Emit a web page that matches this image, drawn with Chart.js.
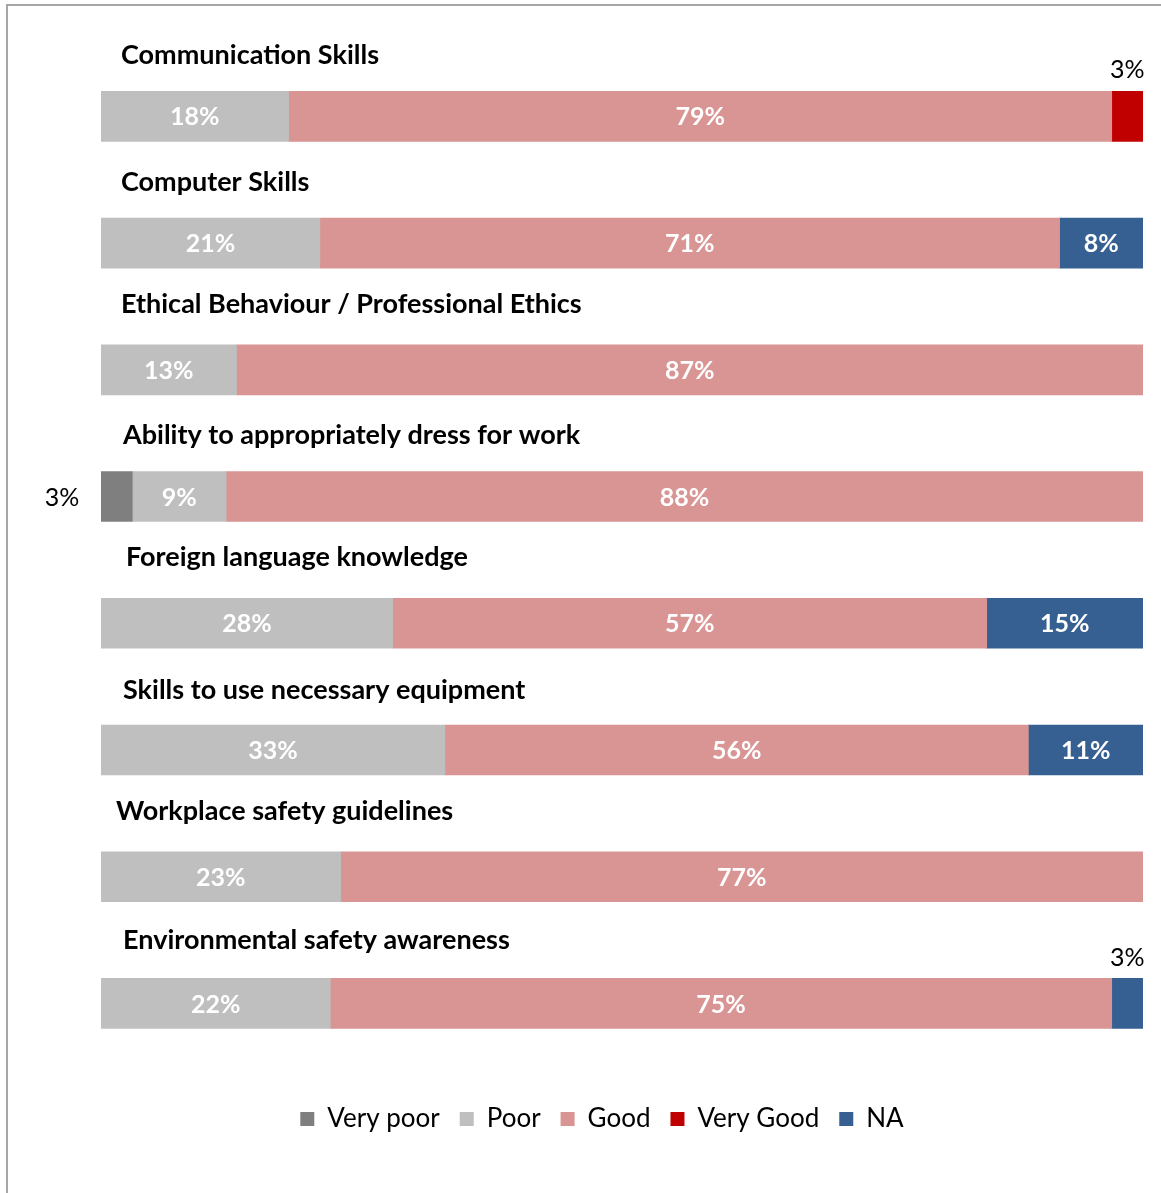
<!DOCTYPE html>
<html>
<head>
<meta charset="utf-8">
<script src="https://cdn.jsdelivr.net/npm/chart.js@4/dist/chart.umd.min.js"></script>
<style>
  html, body { margin: 0; padding: 0; background: #fff; }
  #wrap { position: relative; width: 1161px; height: 1193px; }
</style>
</head>
<body>
<div id="wrap"><canvas id="skill-chart"></canvas></div>
<script>
// categories (one bar each)
var skills = [
    'Communication Skills',
    'Computer Skills',
    'Ethical Behaviour / Professional Ethics',
    'Ability to appropriately dress for work',
    'Foreign language knowledge',
    'Skills to use necessary equipment',
    'Workplace safety guidelines',
    'Environmental safety awareness'
];

// shares in %, one value per skill
var veryPoor = [null, null, null, 3, null, null, null, null];
var poor     = [18, 21, 13, 9, 28, 33, 23, 22];
var good     = [79, 71, 87, 88, 57, 56, 77, 75];
var veryGood = [3, null, null, null, null, null, null, null];
var na       = [null, 8, null, null, 15, 11, null, 3];

var FONT = 'Lato, "Open Sans", sans-serif';

// small nudges for the heading above each bar [dx, dy]
var headNudge = [[0, 1], [0, 1], [0, -4], [2, 1], [5, -4], [2, 2], [-5, -3], [2, -1]];

/**
 * frame lines around the plot
 */
var framePlugin = {
    id: 'frame',
    beforeDraw: function(chart) {
        var ctx = chart.ctx;
        ctx.save();
        ctx.strokeStyle = '#a6a6a6';
        ctx.lineWidth = 2;
        ctx.beginPath();
        ctx.moveTo(7, chart.height);
        ctx.lineTo(7, 5);
        ctx.lineTo(chart.width, 5);
        ctx.stroke();
        ctx.restore();
    }
};

/**
 * legend row sits a little left of the plot centre
 */
var legendShift = {
    id: 'legendShift',
    afterLayout: function(chart) {
        if (chart.legend) {
            chart.legend.left -= 20;
            chart.legend.right -= 20;
        }
    }
};

/**
 * skill headings + percentage labels
 */
var labelPlugin = {
    id: 'barLabels',
    afterDatasetsDraw: function(chart) {
        var ctx = chart.ctx;
        var area = chart.chartArea;
        var yScale = chart.scales.y;
        ctx.save();
        ctx.textBaseline = 'middle';

        // headings
        ctx.fillStyle = '#000';
        ctx.textAlign = 'left';
        ctx.font = 'bold 27px ' + FONT;
        for (var i = 0; i < skills.length; i++) {
            var yc = yScale.getPixelForValue(i);
            ctx.fillText(skills[i], area.left + 20 + headNudge[i][0], yc - 62 + headNudge[i][1]);
        }

        // values
        chart.data.datasets.forEach(function(ds, dI) {
            var meta = chart.getDatasetMeta(dI);
            meta.data.forEach(function(bar, k) {
                var v = ds.data[k];
                if (v === null || v === undefined) return;
                var w = bar.x - bar.base;
                var txt = v + '%';
                ctx.textAlign = 'center';
                if (w > 50) {
                    ctx.font = 'bold 25px ' + FONT;
                    ctx.fillStyle = '#fff';
                    ctx.fillText(txt, (bar.x + bar.base) / 2, bar.y + 1);
                } else if (bar.base <= area.left + 1) {
                    // tiny first segment: label sits left of the bar
                    ctx.font = '25px ' + FONT;
                    ctx.fillStyle = '#000';
                    ctx.fillText(txt, bar.base - 39, bar.y + 1);
                } else {
                    // tiny end segment: label above it
                    ctx.font = '25px ' + FONT;
                    ctx.fillStyle = '#000';
                    ctx.fillText(txt, (bar.x + bar.base) / 2, bar.y - 46);
                }
            });
        });
        ctx.restore();
    }
};

function series(label, data, color) {
    return {
        label: label,
        data: data,
        backgroundColor: color,
        borderWidth: 0,
        barThickness: 50
    };
}

var ctx = document.getElementById('skill-chart').getContext('2d');
new Chart(ctx, {
    type: 'bar',
    data: {
        labels: skills,
        datasets: [
            series('Very poor', veryPoor, '#7f7f7f'),
            series('Poor', poor, '#bfbfbf'),
            series('Good', good, '#d99594'),
            series('Very Good', veryGood, '#c00000'),
            series('NA', na, '#376092')
        ]
    },
    options: {
        indexAxis: 'y',
        responsive: true,
        maintainAspectRatio: false,
        animation: false,
        layout: {
            padding: { top: 53, left: 101, right: 18, bottom: 51 }
        },
        scales: {
            x: { stacked: true, min: 0, max: 100, display: false },
            y: { stacked: true, display: false }
        },
        plugins: {
            tooltip: { enabled: false },
            legend: {
                position: 'bottom',
                // blank title only pushes the legend row down a bit
                title: {
                    display: true,
                    text: ' ',
                    padding: 0,
                    font: { size: 8, lineHeight: 2.4 }
                },
                labels: {
                    boxWidth: 14,
                    boxHeight: 14,
                    padding: 20,
                    color: '#000',
                    font: { family: FONT, size: 26 }
                }
            }
        }
    },
    plugins: [framePlugin, legendShift, labelPlugin]
});
</script>
</body>
</html>
